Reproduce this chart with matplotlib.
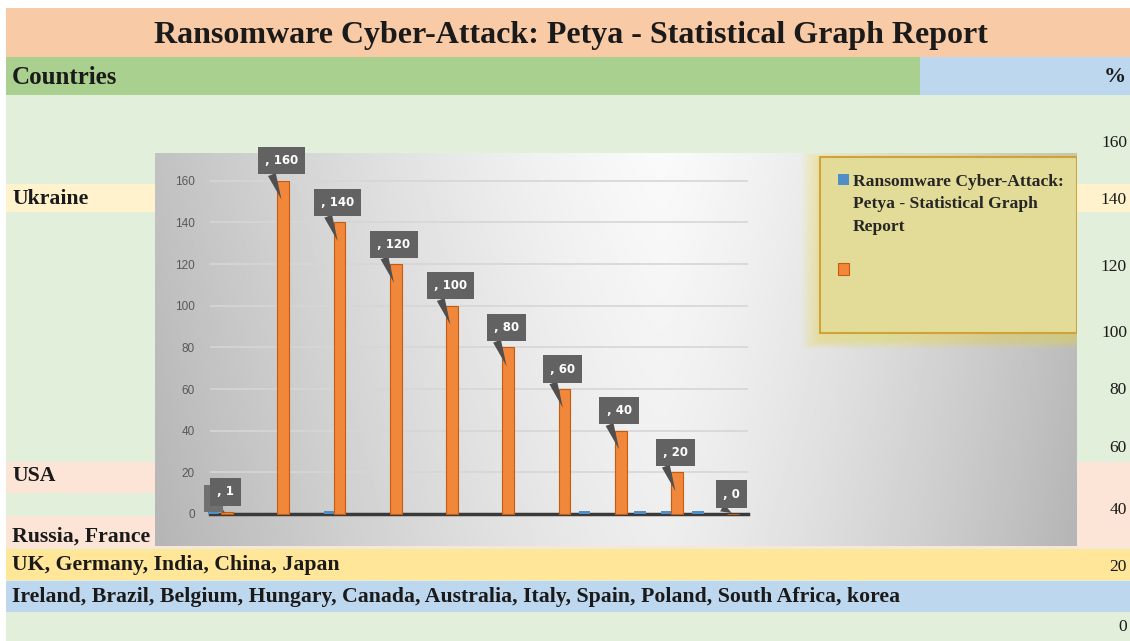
import numpy as np
import matplotlib
matplotlib.use('Agg')
from matplotlib import pyplot as plt
from matplotlib.patches import Rectangle

# Sheet texts
title = 'Ransomware Cyber-Attack: Petya - Statistical Graph Report'
series_lines = ['Ransomware Cyber-Attack:', 'Petya - Statistical Graph', 'Report']
row_labels = ['Ukraine', 'USA', 'Russia, France',
              'UK, Germany, India, China, Japan',
              'Ireland, Brazil, Belgium, Hungary, Canada, Australia, Italy, Spain, Poland, South Africa, korea']
pct_labels = ['160', '140', '120', '100', '80', '60', '40', '20', '0']

# Chart values
orange_vals = [1, 160, 140, 120, 100, 80, 60, 40, 20, 0]
blue_pos = [-0.24, 1.83, 6.36, 7.34, 7.82, 8.37]
blue_vals = [1.5, 1.5, 1.5, 1.5, 1.5, 1.5]
yticks = [0, 20, 40, 60, 80, 100, 120, 140, 160]

# layout (pixels of the sheet picture)
W, H = 1130, 641
row_y = [199, 476, 537, 565, 597]
pct_y = [143, 200, 267, 333, 390, 448, 510, 567, 627]

SERIF = 'Liberation Serif'
ORANGE = '#f0873a'
BLUE = '#4f8fc6'

fig = plt.figure(figsize=(W / 100, H / 100), dpi=100)
fig.patch.set_facecolor('white')

# spreadsheet background, in pixel coords
bg = fig.add_axes([0, 0, 1, 1])
bg.set_xlim(0, W); bg.set_ylim(H, 0); bg.axis('off')
bands = [
    (6, 95, W, H, '#e2efda'),
    (6, 8, W, 57, '#f8caa6'),
    (6, 57, 920, 95, '#a9d08e'),
    (920, 57, W, 95, '#bdd7ee'),
    (6, 184, W, 212, '#fff2cc'),
    (6, 462, W, 548, '#fce4d6'),
    (6, 493, 155, 516, '#e2efda'),
    (6, 549, W, 580, '#ffe699'),
    (6, 581, W, 612, '#bdd7ee'),
]
for x0, y0, x1, y1, c in bands:
    bg.add_patch(Rectangle((x0, y0), x1 - x0, y1 - y0, fc=c, ec='none'))

bg.text(571, 35, title, ha='center', va='center', fontsize=23, fontweight='bold',
        family=SERIF, color='#1a1a1a')
bg.text(12, 77, 'Countries', ha='left', va='center', fontsize=18, fontweight='bold',
        family=SERIF, color='#1a1a1a')
bg.text(1126, 77, '%', ha='right', va='center', fontsize=16, fontweight='bold',
        family=SERIF, color='#1a1a1a')
for lab, y in zip(row_labels, row_y):
    bg.text(12, y, lab, ha='left', va='center', fontsize=15.7, fontweight='bold',
            family=SERIF, color='#1a1a1a')
for lab, y in zip(pct_labels, pct_y):
    bg.text(1127, y, lab, ha='right', va='center', fontsize=12.5,
            family=SERIF, color='#1a1a1a')

# embedded chart frame with grey gradient
cf = fig.add_axes([155 / W, (H - 546) / H, 922 / W, 393 / H])
cf.set_xlim(155, 1077); cf.set_ylim(546, 153); cf.axis('off')
gx = np.linspace(0, 1, 400)
gy = np.linspace(0, 1, 200)
X, Y = np.meshgrid(gx, gy)
d = np.where(X < 0.55, (0.55 - X) / 0.55, (X - 0.55) / 0.45)
shade = 0.98 - 0.22 * d ** 1.3 - 0.05 * Y
cf.imshow(shade, cmap='gray', vmin=0, vmax=1, extent=(155, 1077, 546, 153), aspect='auto')

# legend box with yellow glow
for k in range(10):
    cf.add_patch(Rectangle((820 - 2 * k, 157 - k + 3), 257 + 2 * k, 176 + 2 * k + 4,
                           fc='#f0dc40', ec='none', alpha=0.05))
cf.add_patch(Rectangle((820, 157), 257, 176, fc='#e3dc98', ec='#d0a23a', lw=1.5))

# plot area
ax = fig.add_axes([210 / W, (H - 514) / H, 538 / W, 354 / H])
ax.patch.set_alpha(0)
ax.set_xlim(-0.3, 9.26)
ax.set_ylim(0, 170)
ax.set_yticks(yticks)
ax.set_xticks([])
ax.tick_params(axis='y', length=0, pad=11, labelsize=8.5, labelcolor='#595959')
for lab in ax.get_yticklabels():
    lab.set_family('Liberation Sans')
ax.yaxis.grid(True, color='#d6d6d6', lw=1.2)
ax.set_axisbelow(True)
for s in ['top', 'right', 'left']:
    ax.spines[s].set_visible(False)
ax.spines['bottom'].set_color('#3a3a3a')
ax.spines['bottom'].set_linewidth(2.5)

xs = np.arange(len(orange_vals))
hb = ax.bar(blue_pos, blue_vals, width=0.2, color=BLUE, zorder=3, clip_on=False)
ho = ax.bar(xs, orange_vals, width=0.21, color=ORANGE, edgecolor='#c55a11', lw=0.8,
            zorder=3, clip_on=False)

# callout data labels
for i, v in zip(xs, orange_vals):
    ax.annotate('', xy=(i - 0.03, max(v - 9, 0.5)), xytext=(i - 0.2, v + 3),
                arrowprops=dict(arrowstyle='wedge,tail_width=0.6', fc='#4f4f4f', ec='none',
                                shrinkA=0, shrinkB=0), zorder=4, annotation_clip=False)
    ax.annotate(f', {v}', xy=(i - 0.03, v), xytext=(0, 20), textcoords='offset pixels',
                ha='center', va='center', color='white', fontsize=8.5, fontweight='bold',
                bbox=dict(boxstyle='square,pad=0.6', fc='#626262', ec='none'),
                zorder=5, annotation_clip=False)
ax.annotate(',', xy=(blue_pos[0], blue_vals[0]), xytext=(0, 12), textcoords='offset pixels',
            ha='center', va='center', color='white', fontsize=8.5, fontweight='bold',
            bbox=dict(boxstyle='square,pad=0.6', fc='#707070', ec='none'),
            zorder=4.5, annotation_clip=False)

# legend: blue key on the first line of the wrapped name, orange key below
blank = Rectangle((0, 0), 1, 1, alpha=0)
leg = ax.legend([hb, blank, blank, blank, ho], series_lines + [' ', ' '], loc='upper left',
                bbox_to_anchor=(838 / W, 1 - 174 / H), bbox_transform=fig.transFigure,
                frameon=False, prop=dict(family=SERIF, weight='bold', size=12.6),
                handlelength=0.6, handleheight=0.6, handletextpad=0.25, labelspacing=0.36,
                borderpad=0, borderaxespad=0)
for t in leg.get_texts():
    t.set_color('#262626')

plt.savefig('out.png', dpi=100)
